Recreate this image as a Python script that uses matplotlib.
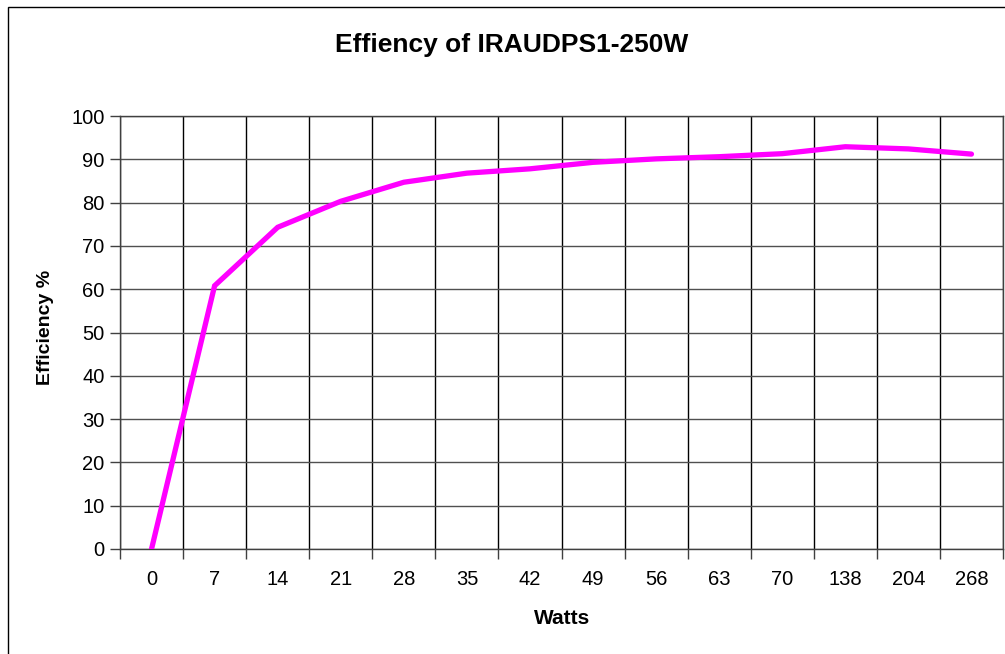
import matplotlib
matplotlib.use("Agg")
import matplotlib.pyplot as plt
from matplotlib.patches import Rectangle

categories = ["0", "7", "14", "21", "28", "35", "42", "49", "56", "63", "70", "138", "204", "268"]
efficiency = [0, 60.8, 74.3, 80.3, 84.7, 86.8, 87.8, 89.3, 90.1, 90.6, 91.3, 92.9, 92.4, 91.2]
yticks = [0, 10, 20, 30, 40, 50, 60, 70, 80, 90, 100]

plt.rcParams['font.family'] = ['Liberation Sans', 'DejaVu Sans']

W, H = 1005, 654
fig = plt.figure(figsize=(W / 100, H / 100), dpi=100)
fig.patch.set_facecolor('white')

# outer chart border
fig.add_artist(Rectangle((8 / W, -0.05), 1.2, 1 - 7 / H + 0.05, transform=fig.transFigure,
                         fill=False, edgecolor='black', linewidth=1.0))

left, right, top, bottom = 120, 1003, 116, 549
ax = fig.add_axes([left / W, 1 - bottom / H, (right - left) / W, (bottom - top) / H])

n = len(categories)
x = list(range(n))
ax.plot(x, efficiency, color='#FF00FF', linewidth=3.8, solid_capstyle='round',
        solid_joinstyle='miter', zorder=3)

ax.set_xlim(-0.5, n - 0.5)
ax.set_ylim(0, 100)
ax.set_xticks(x)
ax.set_xticklabels(categories)
ax.set_xticks([i - 0.5 for i in range(n + 1)], minor=True)
ax.set_yticks(yticks)

ax.tick_params(axis='x', which='major', length=0, pad=15, labelsize=14.5)
ax.tick_params(axis='x', which='minor', length=7, width=1, color='#404040', direction='out')
ax.tick_params(axis='y', which='major', length=7, width=1, color='#404040', direction='out',
               pad=4, labelsize=14.5)

ax.grid(True, axis='y', which='major', color='#505050', linewidth=1.0)
ax.grid(True, axis='x', which='minor', color='black', linewidth=1.0)
ax.set_axisbelow(True)

for s in ax.spines.values():
    s.set_color('#404040')
    s.set_linewidth(1.0)

fig.text(512 / W, 1 - 45 / H, "Effiency of IRAUDPS1-250W", ha='center', va='center',
         fontsize=19, fontweight='bold')
fig.text(46 / W, 1 - 327 / H, "Efficiency %", ha='center', va='center', rotation=90,
         fontsize=14, fontweight='bold')
fig.text(562 / W, 1 - 618 / H, "Watts", ha='center', va='center',
         fontsize=15, fontweight='bold')

fig.savefig("out.png", dpi=100)
